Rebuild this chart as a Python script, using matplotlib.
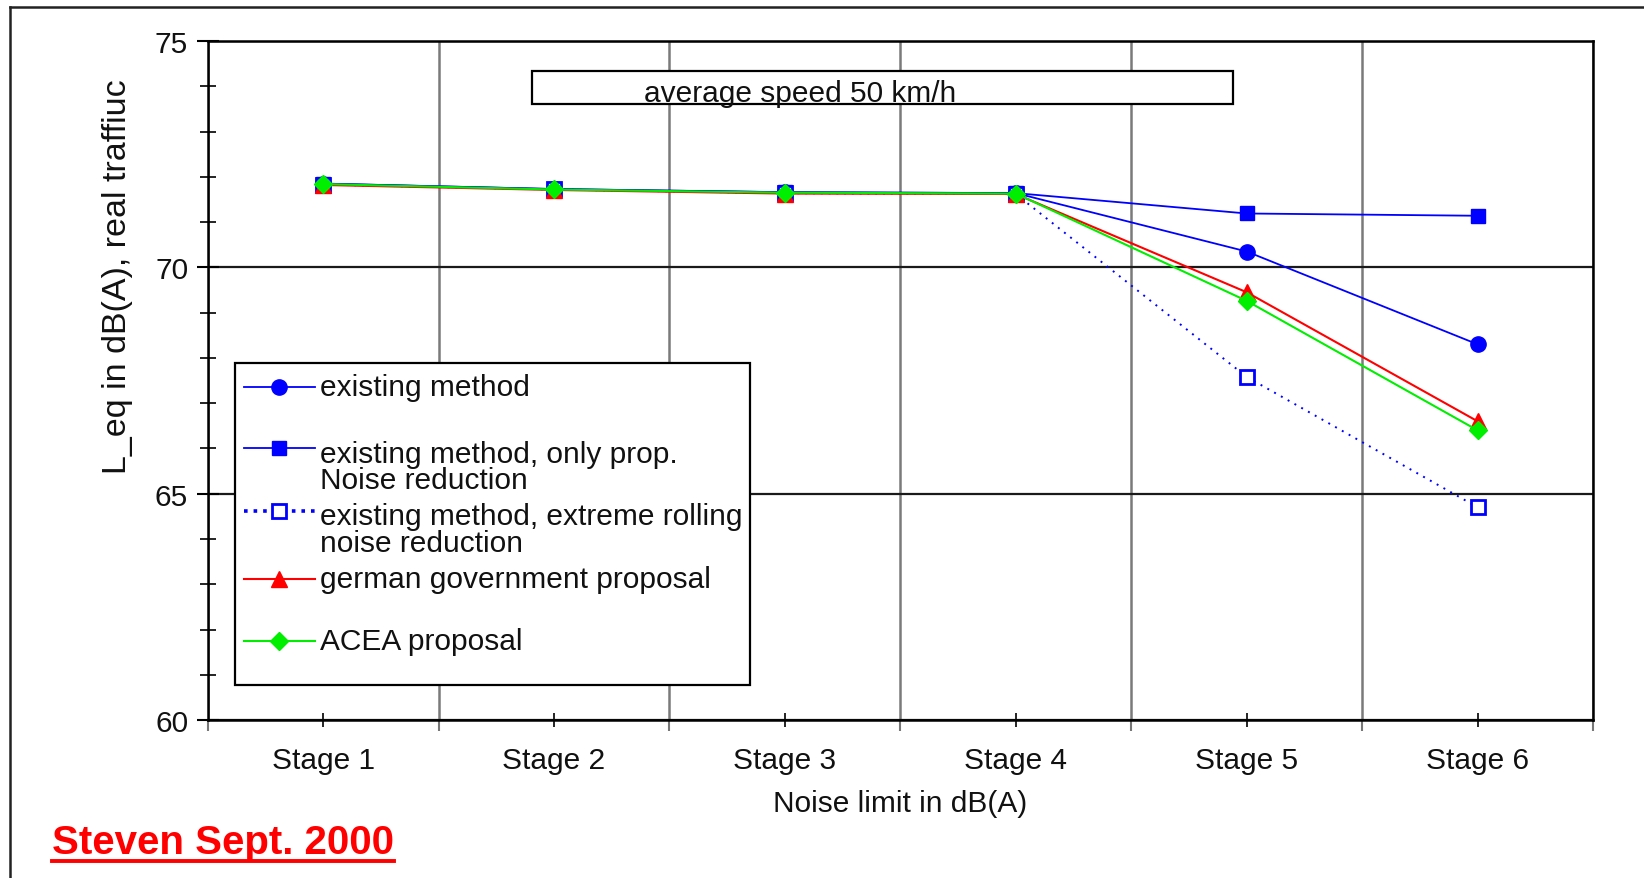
import matplotlib
matplotlib.use("Agg")
import matplotlib.pyplot as plt
from matplotlib.lines import Line2D
from matplotlib.patches import Rectangle
from matplotlib.ticker import FixedLocator, MultipleLocator

plt.rcParams['font.family'] = ['Liberation Sans', 'DejaVu Sans']

# ---- data ----
stages = ['Stage 1', 'Stage 2', 'Stage 3', 'Stage 4', 'Stage 5', 'Stage 6']
existing = [71.85, 71.73, 71.66, 71.64, 70.35, 68.30]
only_prop = [71.85, 71.73, 71.66, 71.64, 71.19, 71.14]
extreme_rolling = [71.83, 71.72, 71.64, 71.62, 67.58, 64.70]
german = [71.82, 71.71, 71.63, 71.62, 69.45, 66.60]
acea = [71.84, 71.72, 71.65, 71.63, 69.26, 66.40]

labels = ['existing method',
          'existing method, only prop.\nNoise reduction',
          'existing method, extreme rolling\nnoise reduction',
          'german government proposal',
          'ACEA proposal']
y_ticks = [60, 65, 70, 75]
box_text = 'average speed 50 km/h'
x_label = 'Noise limit in dB(A)'
y_label = 'L_eq in dB(A), real traffiuc'
signature = 'Steven Sept. 2000'

BLUE, RED, GREEN = '#0000FF', '#FF0000', '#00EE00'
FS = 21.5

fig = plt.figure(figsize=(16.44, 8.79), dpi=100)
ax = fig.add_axes([0.1263, 0.1797, 0.8427, 0.7725])

x = list(range(1, len(stages) + 1))

styles = [
    dict(color=BLUE, lw=1.3, marker='o', ms=11, mfc=BLUE, mec=BLUE, ls='-'),
    dict(color=BLUE, lw=1.3, marker='s', ms=10.5, mfc=BLUE, mec=BLUE, ls='-'),
    dict(color=BLUE, lw=1.4, marker='s', ms=10, mfc='white', mec=BLUE, mew=2, ls=(0, (1, 3))),
    dict(color=RED, lw=1.5, marker='^', ms=11, mfc=RED, mec=RED, ls='-'),
    dict(color=GREEN, lw=1.5, marker='D', ms=9, mfc=GREEN, mec=GREEN, ls='-'),
]
series = [existing, only_prop, extreme_rolling, german, acea]
for i, (vals, st) in enumerate(zip(series, styles)):
    ax.plot(x, vals, zorder=3 + i, **st)

ax.set_xlim(0.5, len(stages) + 0.5)
ax.set_ylim(60, 75)

# x ticks: labels at centres, grid at boundaries
ax.xaxis.set_major_locator(FixedLocator(x))
ax.set_xticklabels(stages, fontsize=FS, color='#111111')
ax.xaxis.set_minor_locator(FixedLocator([i + 0.5 for i in range(0, len(stages) + 1)]))
ax.tick_params(axis='x', which='major', direction='inout', length=10, width=1.2, pad=14)
ax.tick_params(axis='x', which='minor', direction='out', length=8, width=1.5, color='#777777')
ax.grid(axis='x', which='minor', color='#7a7a7a', lw=1.8, zorder=1)

# y ticks
ax.yaxis.set_major_locator(FixedLocator(y_ticks))
ax.set_yticklabels([str(v) for v in y_ticks], fontsize=FS, color='#111111')
ax.yaxis.set_minor_locator(MultipleLocator(1))
ax.tick_params(axis='y', which='major', direction='inout', length=16, width=1.5, pad=6)
ax.tick_params(axis='y', which='minor', direction='inout', length=12, width=1.2)
ax.grid(axis='y', which='major', color='#1a1a1a', lw=1.6, zorder=1)

for s in ax.spines.values():
    s.set_color('black')
    s.set_linewidth(1.8)
    s.set_zorder(10)

ax.set_xlabel(x_label, fontsize=FS, color='#111111')
ax.xaxis.set_label_coords(0.5, -0.102)
ax.xaxis.label.set_va('top')
ax.set_ylabel(y_label, fontsize=24.5, color='#111111')
ax.yaxis.set_label_coords(-0.054, 0.655)

# ---- text box ----
ax.add_patch(Rectangle((0.2339, 0.907), 0.740 - 0.2339, 0.956 - 0.907,
                       transform=ax.transAxes, facecolor='white', edgecolor='black',
                       lw=1.6, zorder=8))
ax.text(0.315, 0.911, box_text, transform=ax.transAxes, fontsize=FS,
        ha='left', va='baseline', color='#111111', zorder=9)

# ---- legend (drawn in axes coordinates) ----
ax.add_patch(Rectangle((0.0198, 0.0515), 0.3717, 0.4745, transform=ax.transAxes,
                       facecolor='white', edgecolor='black', lw=1.6, zorder=8))
handle_y = [0.4904, 0.4006, 0.3078, 0.2077, 0.1163]
text_y = [0.4904, 0.3726, 0.2806, 0.2077, 0.1163]
leg_styles = [dict(s) for s in styles]
leg_styles[2]['lw'] = 2.6
leg_styles[2]['ls'] = ':'
for hy, ty, lab, st in zip(handle_y, text_y, labels, leg_styles):
    ax.add_line(Line2D([0.0263, 0.0775], [hy, hy], transform=ax.transAxes,
                       color=st['color'], lw=st['lw'], ls=st['ls'], zorder=9))
    ax.add_line(Line2D([0.0515], [hy], transform=ax.transAxes, marker=st['marker'],
                       ms=st['ms'], mfc=st['mfc'], mec=st['mec'], mew=st.get('mew', 1),
                       ls='none', zorder=9))
    ax.text(0.081, ty, lab, transform=ax.transAxes, fontsize=FS, ha='left', va='center',
            linespacing=0.95, color='#111111', zorder=9)

# ---- outer frame (left and top only) ----
fig.add_artist(Line2D([0.0061, 0.0061], [0.0, 0.991], transform=fig.transFigure,
                      color='#222222', lw=1.8))
fig.add_artist(Line2D([0.0061, 1.0], [0.991, 0.991], transform=fig.transFigure,
                      color='#222222', lw=1.8))

# ---- signature ----
t = fig.text(52 / 1644, 1 - 854 / 879, signature, fontsize=29, fontweight='bold',
             color=RED, ha='left', va='baseline')
fig.canvas.draw()
bb = t.get_window_extent()
fig.add_artist(Line2D([bb.x0 / 1644, bb.x1 / 1644], [1 - 862 / 879, 1 - 862 / 879],
                      transform=fig.transFigure, color=RED, lw=2.8))

fig.savefig('out.png', dpi=100)
